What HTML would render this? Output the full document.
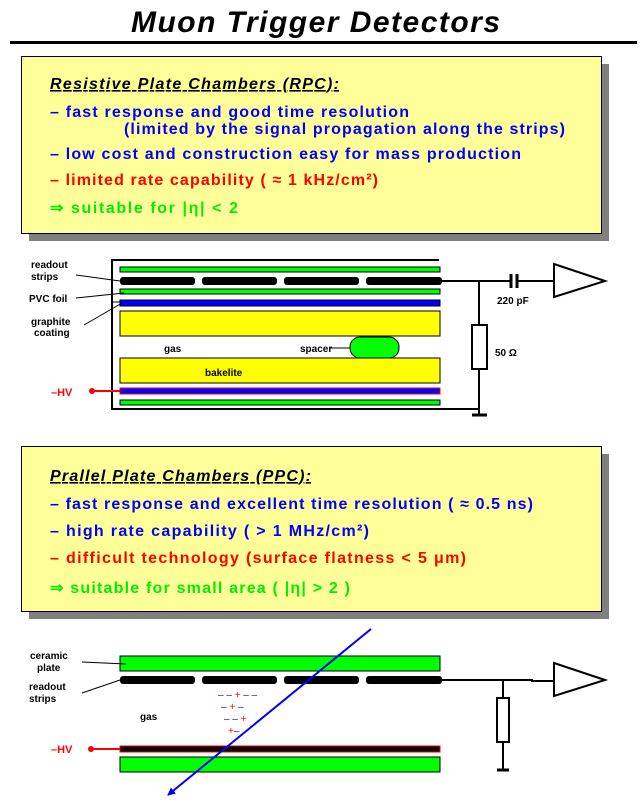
<!DOCTYPE html>
<html><head><meta charset="utf-8"><style>
html,body{margin:0;padding:0;background:#fff;}
svg{display:block;font-family:"Liberation Sans",sans-serif;font-weight:bold;}
</style></head><body>
<svg width="640" height="807" viewBox="0 0 640 807" xmlns="http://www.w3.org/2000/svg">
<defs><marker id="ah" markerWidth="8" markerHeight="8" refX="7" refY="4" orient="auto" markerUnits="userSpaceOnUse"><path d="M0,0 L8,4 L0,8 z" fill="#0000ff"/></marker></defs>
<text x="131" y="32" font-size="30" font-style="italic" textLength="369" lengthAdjust="spacing">Muon Trigger Detectors</text>
<rect x="10" y="41" width="627" height="3" fill="#000"/>
<rect x="29" y="64" width="580" height="177" fill="#808080"/>
<rect x="21.5" y="56.5" width="580" height="177" fill="#ffff99" stroke="#000"/>
<g font-size="16">
<text x="50" y="89" font-style="italic" text-decoration="underline" textLength="289" lengthAdjust="spacing">Resistive Plate Chambers (RPC):</text>
<text x="50" y="117" fill="#0000ff" textLength="359" lengthAdjust="spacing">– fast response and good time resolution</text>
<text x="124" y="134" fill="#0000ff" textLength="441" lengthAdjust="spacing">(limited by the signal propagation along the strips)</text>
<text x="50" y="159" fill="#0000ff" textLength="471" lengthAdjust="spacing">– low cost and construction easy for mass production</text>
<text x="50" y="185" fill="#ff0000" textLength="328" lengthAdjust="spacing">– limited rate capability ( ≈ 1 kHz/cm²)</text>
<text x="50" y="213" fill="#00ee00" textLength="188" lengthAdjust="spacing">⇒ suitable for  |η| &lt; 2</text>
</g>
<g stroke="#000" stroke-width="2" fill="none">
<polyline points="439,260 112,260 112,409 479,409"/>
<line x1="442" y1="281" x2="511" y2="281"/>
<line x1="517" y1="281" x2="554" y2="281"/>
<line x1="511" y1="274" x2="511" y2="288" stroke-width="3"/>
<line x1="517" y1="274" x2="517" y2="288" stroke-width="3"/>
<polygon points="554,264 605,281 554,297" fill="#fff"/>
<line x1="479" y1="281" x2="479" y2="415"/>
<rect x="472" y="325" width="15" height="44" fill="#fff"/>
<line x1="472" y1="415" x2="487" y2="415" stroke-width="3"/>
</g>
<g stroke="#000" stroke-width="1">
<rect x="120" y="267" width="320" height="5" fill="#00ff00"/>
<rect x="120" y="289" width="320" height="5" fill="#00ff00"/>
<rect x="120" y="300" width="320" height="6" fill="#0000ff"/>
<rect x="120" y="311" width="320" height="25" fill="#ffff00"/>
<rect x="120" y="358" width="320" height="25" fill="#ffff00"/>
<rect x="350" y="337" width="49" height="21" rx="10" fill="#00ff00"/>
<rect x="120" y="400" width="320" height="5" fill="#00ff00"/>
</g>
<rect x="120" y="388" width="320" height="6" fill="#0000ff" stroke="#ff0000" stroke-width="1"/>
<g fill="#000">
<rect x="120" y="277" width="75" height="8" rx="3"/>
<rect x="202" y="277" width="75" height="8" rx="3"/>
<rect x="284" y="277" width="75" height="8" rx="3"/>
<rect x="366" y="277" width="76" height="8" rx="3"/>
</g>
<g stroke="#000" stroke-width="1">
<line x1="76" y1="275" x2="120" y2="281"/>
<line x1="76" y1="298" x2="124" y2="293"/>
<line x1="84" y1="325" x2="122" y2="303"/>
<line x1="112" y1="302" x2="120" y2="302"/>
<line x1="330" y1="348" x2="350" y2="348"/>
</g>
<g font-size="10">
<text x="31" y="268">readout</text>
<text x="31" y="280">strips</text>
<text x="29" y="302">PVC foil</text>
<text x="31" y="325">graphite</text>
<text x="34" y="336">coating</text>
<text x="164" y="352">gas</text>
<text x="300" y="352">spacer</text>
<text x="205" y="376">bakelite</text>
<text x="497" y="304">220 pF</text>
<text x="495" y="356">50 Ω</text>
</g>
<text x="51" y="396" font-size="11" fill="#ff0000">–HV</text>
<line x1="92" y1="391" x2="120" y2="391" stroke="#ff0000" stroke-width="2"/>
<circle cx="92" cy="391" r="3" fill="#ff0000"/>
<rect x="29" y="454" width="580" height="165" fill="#808080"/>
<rect x="21.5" y="446.5" width="580" height="165" fill="#ffff99" stroke="#000"/>
<g font-size="16">
<text x="50" y="481" font-style="italic" text-decoration="underline" textLength="261" lengthAdjust="spacing">Prallel Plate Chambers (PPC):</text>
<text x="50" y="509" fill="#0000ff" textLength="483" lengthAdjust="spacing">– fast response and excellent time resolution ( ≈ 0.5 ns)</text>
<text x="50" y="536" fill="#0000ff" textLength="319" lengthAdjust="spacing">– high rate capability  ( &gt; 1 MHz/cm²)</text>
<text x="50" y="563" fill="#ff0000" textLength="416" lengthAdjust="spacing">– difficult technology  (surface flatness &lt; 5 μm)</text>
<text x="50" y="593" fill="#00ee00" textLength="300" lengthAdjust="spacing">⇒ suitable for small area ( |η| &gt; 2 )</text>
</g>
<g stroke="#000" stroke-width="1">
<rect x="120" y="656" width="320" height="15" fill="#00ff00"/>
<rect x="120" y="757" width="320" height="15" fill="#00ff00"/>
</g>
<rect x="120" y="746" width="320" height="6" fill="#000" stroke="#ff0000" stroke-width="1"/>
<g fill="#000">
<rect x="120" y="676" width="75" height="8" rx="3"/>
<rect x="202" y="676" width="75" height="8" rx="3"/>
<rect x="284" y="676" width="75" height="8" rx="3"/>
<rect x="366" y="676" width="76" height="8" rx="3"/>
</g>
<g stroke="#000" stroke-width="2" fill="none">
<polyline points="442,680 532,680 532,681 554,681"/>
<polygon points="554,663 605,680 554,696" fill="#fff"/>
<line x1="503" y1="681" x2="503" y2="770"/>
<rect x="497" y="698" width="12" height="44" fill="#fff"/>
<line x1="497" y1="770" x2="509" y2="770" stroke-width="3"/>
</g>
<g stroke="#000" stroke-width="1">
<line x1="82" y1="662" x2="126" y2="664"/>
<line x1="82" y1="693" x2="120" y2="680"/>
</g>
<g font-size="10">
<text x="30" y="659">ceramic</text>
<text x="37" y="671">plate</text>
<text x="29" y="690">readout</text>
<text x="29" y="702">strips</text>
<text x="140" y="720">gas</text>
</g>
<g font-size="10" font-weight="normal">
<text x="218" y="698" fill="#0000ff">– – <tspan fill="#ff0000">+</tspan> –  –</text>
<text x="221" y="710" fill="#0000ff">–  <tspan fill="#ff0000">+</tspan>  –</text>
<text x="224" y="722" fill="#0000ff">– – <tspan fill="#ff0000">+</tspan></text>
<text x="228" y="734" fill="#ff0000">+<tspan fill="#0000ff">–</tspan></text>
</g>
<text x="51" y="753" font-size="11" fill="#ff0000">–HV</text>
<line x1="91" y1="749" x2="120" y2="749" stroke="#ff0000" stroke-width="2"/>
<circle cx="91" cy="749" r="3" fill="#ff0000"/>
<line x1="371" y1="629" x2="168" y2="795" stroke="#0000ff" stroke-width="2" marker-end="url(#ah)"/>
</svg>
</body></html>
